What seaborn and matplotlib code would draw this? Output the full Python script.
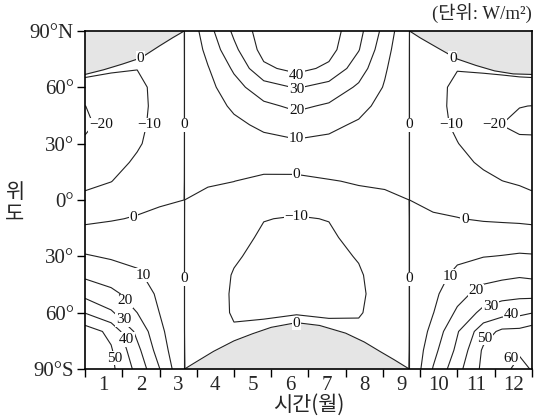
import numpy as np
import matplotlib
matplotlib.use("Agg")
import matplotlib.pyplot as plt
import seaborn as sns

# 데이터

# 시간 축: 0 = 1월 1일, 12 = 12월 31일 (춘분 2.67, 추분 8.71)
months = [0.0, 0.7, 1.4, 2.0, 2.67, 3.3, 4.0, 4.8, 5.68, 6.55,
          7.35, 8.05, 8.71, 9.35, 10.0, 10.7, 11.2, 11.67, 12.0]
lats = [90, 80, 70, 60, 50, 40, 30, 20, 10, 0,
        -10, -20, -30, -40, -50, -60, -70, -80, -90]

# 각 시점의 위도별 값 (90N -> 90S), 단위 W/m2
values_by_month = [
    [-3, -5, -7, -13.2, -20.1, -21.4, -18.8, -15.5, -12.2, -7.9, -2.0, 4.3, 10.8, 18.2, 27.0, 39.6, 55.0, 58.0, 59.7],
    [-3, -5, -9.1, -12.8, -16.0, -17.0, -16.0, -13.5, -10.2, -5.4, -0.6, 4.1, 8.9, 15.2, 22.4, 31.3, 47.5, 51.0, 52.3],
    [-2, -4, -9.8, -12.3, -12.8, -12.3, -11.2, -8.5, -5.5, -2.5, 0.6, 4.1, 7.6, 11.4, 15.7, 20.0, 27.3, 32.8, 37.2],
    [-1.5, -2.5, -6.0, -7.2, -7.2, -6.8, -5.8, -4.5, -2.5, -0.7, 1.2, 2.8, 4.5, 6.0, 8.2, 9.9, 12.5, 15.3, 20.3],
    [0.01, 0.01, 0.01, 0.01, 0.01, 0.01, 0.01, 0.01, 0.01, 0.01, 0.01, 0.01, 0.01, 0.01, 0.01, 0.01, 0.01, 0.01, 0.01],
    [16.3, 12.8, 9.4, 7.0, 5.2, 3.5, 2.5, 1.8, 0.7, -1.5, -2.5, -3.4, -4.4, -5.3, -5.8, -5.1, -4.0, -1.0, -0.5],
    [32, 27.7, 21.5, 16.4, 11.7, 7.8, 5.5, 3.2, 0.05, -2.2, -4.5, -6.7, -9.0, -10.6, -11.0, -11.0, -9.0, -3.0, -1.0],
    [45, 43.5, 38, 25.8, 18.0, 12.0, 7.0, 2.6, -1.5, -5.0, -9.7, -11.5, -12.5, -13.0, -12.5, -11.0, -8.1, -4.0, -2.0],
    [49.5, 47, 43, 30.8, 21.9, 14.8, 8.5, 3.2, -1.8, -6.2, -10.7, -12.0, -13.0, -13.2, -12.5, -10.4, -6.8, -3.0, -1.5],
    [45, 43.5, 38, 26.4, 18.7, 12.4, 7.5, 3.6, -0.4, -4.4, -9.7, -11.5, -12.5, -13.0, -12.5, -11.0, -7.7, -3.5, -1.5],
    [33, 30.5, 24.7, 18.5, 13.5, 8.5, 6.0, 3.2, 0.6, -2.0, -4.5, -6.9, -9.4, -11.0, -11.5, -10.8, -8.0, -1.5, -0.5],
    [16.8, 13.7, 11.2, 9.2, 6.2, 3.9, 2.8, 1.8, 0.8, -1.0, -2.8, -3.6, -4.7, -5.6, -6.2, -5.9, -4.5, -1.5, -0.5],
    [0.01, 0.01, 0.01, 0.01, 0.01, 0.01, 0.01, 0.01, 0.01, 0.01, 0.01, 0.01, 0.01, 0.01, 0.01, 0.01, 0.01, 0.01, 0.01],
    [-1.5, -3.0, -5.5, -7.1, -6.8, -6.0, -5.0, -3.7, -2.8, -1.5, 0.8, 2.6, 4.3, 6.1, 7.9, 9.7, 13.1, 16.9, 20.6],
    [-2, -4, -9.65, -12.0, -12.5, -12.0, -9.7, -7.3, -4.8, -2.3, 0.2, 4.1, 8.1, 12.2, 16.5, 21.7, 29.2, 32.2, 36.7],
    [-3, -5, -8.8, -13.5, -16.2, -17.0, -15.5, -11.5, -7.7, -4.2, -0.7, 4.3, 9.7, 16.4, 23.8, 33.0, 45.8, 51.5, 52.5],
    [-3, -5, -8.55, -12.7, -17.2, -20.1, -16.9, -13.4, -9.9, -5.4, -1.1, 4.4, 10.3, 17.7, 26.3, 36.3, 52.0, 56.5, 58.5],
    [-3, -5, -7.3, -13.3, -19.8, -21.7, -18.4, -14.7, -11.1, -6.5, -1.5, 4.5, 11.1, 18.9, 27.4, 37.5, 52.5, 59.3, 61.5],
    [-3, -5, -7, -13.2, -20.1, -21.4, -18.8, -15.5, -12.2, -7.9, -2.0, 4.3, 10.8, 18.2, 27.0, 39.6, 55.0, 58.0, 59.7],
]

contour_levels = [-20, -10, 0, 10, 20, 30, 40, 50, 60]
equinox_months = [2.67, 8.71]

# 극야 영역 경계
north_spring_m = [0.0, 0.5, 1.0, 1.5, 2.0, 2.35, 2.67]
north_spring_lat = [66.8, 69.3, 72.3, 75.6, 82.0, 86.3, 90.0]
north_autumn_m = [8.71, 9.0, 9.5, 10.0, 10.5, 11.0, 11.5, 12.0]
north_autumn_lat = [90.0, 86.3, 80.6, 75.0, 71.6, 68.7, 67.1, 66.8]
south_m = [2.67, 3.0, 3.45, 4.0, 4.5, 5.0, 5.68, 6.3, 7.0, 7.5, 7.92, 8.3, 8.71]
south_lat = [-90, -86, -80.6, -75, -71.2, -67.8, -65.3, -66.8, -70.9, -75.6, -80.6, -85, -90]

month_labels = [str(i) for i in range(1, 13)]
lat_ticks = [90, 60, 30, 0, -30, -60, -90]
lat_labels = ["90°N", "60°", "30°", "0°", "30°", "60°", "90°S"]

# 스타일

sns.set_theme(style="ticks")
plt.rcParams["font.family"] = ["Liberation Serif", "Noto Sans CJK KR"]
plt.rcParams["axes.unicode_minus"] = True

LINE = "#222222"
GRAY = "#e5e5e5"

fig = plt.figure(figsize=(5.35, 4.17), dpi=100)
ax = fig.add_axes([0.159, 0.115, 0.835, 0.811])

# 등치선

Z = np.array(values_by_month).T
ax.contour(months, lats, Z, levels=contour_levels, colors=LINE,
           linewidths=0.8, linestyles="solid", zorder=2)

for m in equinox_months:
    ax.axvline(m, color=LINE, lw=0.8, zorder=2)

# 극야 (회색 영역)
ax.fill_between(north_spring_m, north_spring_lat, 90, color=GRAY, lw=0, zorder=3)
ax.fill_between(north_autumn_m, north_autumn_lat, 90, color=GRAY, lw=0, zorder=3)
ax.fill_between(south_m, -90, south_lat, color=GRAY, lw=0, zorder=3)
ax.plot(north_spring_m, north_spring_lat, color=LINE, lw=0.8, zorder=3.5)
ax.plot(north_autumn_m, north_autumn_lat, color=LINE, lw=0.8, zorder=3.5)
ax.plot(south_m, south_lat, color=LINE, lw=0.8, zorder=3.5)

# 등치선 값 라벨

labels = [
    ("\u221220", 0.43, 40), ("\u221210", 1.72, 40), ("0", 2.67, 40),
    ("0", 1.48, 75.3), ("0", 1.3, -9.5), ("0", 2.67, -42),
    ("10", 1.57, -40), ("20", 1.07, -53.7), ("30", 1.03, -63.8),
    ("40", 1.12, -74.4), ("50", 0.8, -84.2),
    ("40", 5.68, 66.5), ("30", 5.68, 58.8), ("20", 5.68, 47.8),
    ("10", 5.68, 32.8), ("0", 5.68, 13.6), ("\u221210", 5.68, -8.9),
    ("0", 5.68, -65.6),
    ("0", 8.71, 40), ("0", 8.71, -42),
    ("0", 9.88, 75.3), ("\u221210", 9.84, 40), ("\u221220", 11.0, 40),
    ("0", 10.2, -10.6),
    ("10", 9.8, -40.8), ("20", 10.5, -48.4), ("30", 10.9, -56.7),
    ("40", 11.45, -61.1), ("50", 10.74, -73.5), ("60", 11.45, -84.2),
]
for txt, x, y in labels:
    ax.text(x, y, txt, fontsize=11, ha="center", va="center", color="#111111",
            zorder=5, bbox=dict(boxstyle="square,pad=0.05", fc="white", ec="none"))

# 축

ax.set_xlim(0, 12)
ax.set_ylim(-90, 90)
ax.set_xticks(range(13))
ax.set_xticklabels([])
ax.set_xticks([i + 0.5 for i in range(12)], minor=True)
ax.set_xticklabels(month_labels, minor=True)
ax.tick_params(axis="x", which="major", bottom=True, length=6, width=1,
               direction="out", color="black")
ax.tick_params(axis="x", which="minor", bottom=True, length=0, labelsize=15, pad=5)
ax.set_yticks(lat_ticks)
ax.set_yticklabels(lat_labels)
ax.tick_params(axis="y", left=True, length=6, width=1, direction="out",
               color="black", labelsize=15, pad=2)

for s in ax.spines.values():
    s.set_linewidth(1.2)
    s.set_color("black")
    s.set_zorder(6)

fig.text(15 / 535, 1 - 203 / 417, "위\n도", family=["Noto Sans CJK KR"],
         fontsize=15, ha="center", va="center", linespacing=1.0)
fig.text(309 / 535, 1 - 405 / 417, "시간(월)", family=["Noto Sans CJK KR"],
         fontsize=15, ha="center", va="center")
fig.text(532 / 535, 1 - 14 / 417, "(단위: W/m²)",
         family=["Liberation Serif", "Noto Sans CJK KR"],
         fontsize=13.5, ha="right", va="center")

fig.savefig("out.png", dpi=100)
